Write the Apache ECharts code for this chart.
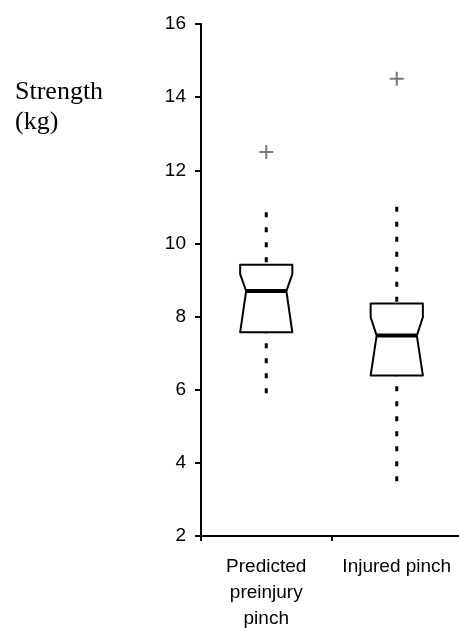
<!DOCTYPE html>
<html>
<head>
<meta charset="utf-8">
<script src="https://cdn.jsdelivr.net/npm/echarts@6/dist/echarts.min.js"></script>
<style>
  html, body { margin: 0; padding: 0; background: #fff; }
  #chart { width: 459px; height: 628px; }
</style>
</head>
<body>
<div id="chart"></div>
<script>
// categories on the x axis
var categories = ["Predicted\npreinjury\npinch", "Injured pinch"];
// box statistics, one entry per category
var lowWhisker = [5.9, 3.5];
var q1 = [7.57, 6.39];
var median = [8.7, 7.48];
var q3 = [9.42, 8.36];
var highWhisker = [10.85, 11.0];
// notch limits (lower notch sits at Q1 in both boxes)
var notchLow = [7.57, 6.39];
var notchHigh = [9.16, 7.98];
// outliers: [category index, value]
var outliers = [[0, 12.5], [1, 14.5]];
var yTicks = { min: 2, max: 16, interval: 2 };

var chart = echarts.init(document.getElementById("chart"));

var boxData = categories.map(function (name, i) {
  return [i, lowWhisker[i], q1[i], median[i], q3[i], highWhisker[i], notchLow[i], notchHigh[i]];
});

// notched box + dotted whiskers
function renderBox(params, api) {
  var idx = api.value(0);
  var half = api.size([1, 0])[0] * 0.2;
  var inset = 6;
  var p = function (v) { return api.coord([idx, v]); };
  var pMin = p(api.value(1));
  var pQ1 = p(api.value(2));
  var pMed = p(api.value(3));
  var pQ3 = p(api.value(4));
  var pMax = p(api.value(5));
  var pNl = p(api.value(6));
  var pNh = p(api.value(7));
  var cx = pMed[0];
  var L = cx - half, R = cx + half;
  var dash = { stroke: "#000", lineWidth: 3, lineDash: [5, 10] };
  return {
    type: "group",
    children: [
      {
        type: "line",
        shape: { x1: cx, y1: pMax[1], x2: cx, y2: pQ3[1] },
        style: dash
      },
      {
        type: "line",
        shape: { x1: cx, y1: pMin[1], x2: cx, y2: pQ1[1] },
        style: dash
      },
      {
        type: "polygon",
        shape: {
          points: [
            [L, pQ3[1]], [R, pQ3[1]], [R, pNh[1]], [R - inset, pMed[1]],
            [R, pNl[1]], [R, pQ1[1]], [L, pQ1[1]], [L, pNl[1]],
            [L + inset, pMed[1]], [L, pNh[1]]
          ]
        },
        style: { fill: "#fff", stroke: "#000", lineWidth: 2, lineJoin: "round" }
      },
      {
        type: "line",
        shape: { x1: L + inset, y1: pMed[1], x2: R - inset, y2: pMed[1] },
        style: { stroke: "#000", lineWidth: 4 }
      }
    ]
  };
}

var option = {
  animation: false,
  backgroundColor: "#fff",
  grid: { left: 201, right: -3, top: 24, bottom: 92, outerBoundsMode: "none", containLabel: false },
  graphic: [
    {
      type: "text",
      left: 15,
      top: 77,
      style: {
        text: "Strength\n(kg)",
        font: '26px "Liberation Serif", "Times New Roman", serif',
        lineHeight: 30,
        fill: "#000"
      }
    }
  ],
  xAxis: {
    type: "category",
    data: categories,
    boundaryGap: true,
    axisLine: { lineStyle: { color: "#000", width: 2 } },
    axisTick: { show: true, length: 5, lineStyle: { color: "#000", width: 2 } },
    axisLabel: {
      color: "#000",
      fontSize: 19,
      fontFamily: '"Liberation Sans", Arial, sans-serif',
      lineHeight: 26,
      margin: 18,
      interval: 0
    },
    splitLine: { show: false }
  },
  yAxis: {
    type: "value",
    min: yTicks.min,
    max: yTicks.max,
    interval: yTicks.interval,
    axisLine: { show: true, lineStyle: { color: "#000", width: 2 } },
    axisTick: { show: true, length: 6, lineStyle: { color: "#000", width: 2 } },
    axisLabel: {
      color: "#000",
      fontSize: 19,
      fontFamily: '"Liberation Sans", Arial, sans-serif',
      margin: 15
    },
    splitLine: { show: false }
  },
  series: [
    {
      type: "custom",
      renderItem: renderBox,
      encode: { x: 0, y: [1, 2, 3, 4, 5] },
      data: boxData,
      z: 2
    },
    {
      type: "scatter",
      data: outliers,
      symbol: "path://M6,0H8V6H14V8H8V14H6V8H0V6H6Z",
      symbolSize: 14,
      itemStyle: { color: "#555" },
      z: 3
    }
  ]
};

chart.setOption(option);
</script>
</body>
</html>
